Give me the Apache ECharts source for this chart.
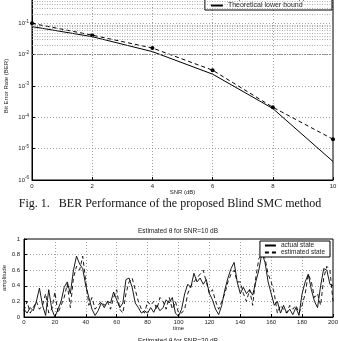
<!DOCTYPE html>
<html><head><meta charset="utf-8">
<script src="https://cdn.jsdelivr.net/npm/echarts@6/dist/echarts.min.js"></script>
<style>html,body{margin:0;padding:0;background:#fff}#c{width:338px;height:341px}</style>
</head><body><div id="c"></div>
<script>
// ---- Figure 1: BER vs SNR ----
const snr = [0, 2, 4, 6, 8, 10];
const berProposed = [0.1, 0.042, 0.0163, 0.0032, 0.00021, 0.00002];
const berBound = [0.0786, 0.0375, 0.0125, 0.00239, 0.000191, 0.0000039];
const legendTop = ['Proposed Blind SMC approach', 'Theoretical lower bound'];

// ---- Estimated theta for SNR=10 dB (sampled every 2 time steps) ----
const timeStep = 2;
const actualState = [
 0.10,0.05,0.12,0.08,0.20,0.37,0.15,0.02,0.35,0.10,
 0.00,0.10,0.20,0.38,0.45,0.30,0.60,0.78,0.68,0.62,
 0.40,0.25,0.10,0.02,0.08,0.18,0.12,0.20,0.18,0.32,
 0.22,0.12,0.18,0.48,0.50,0.38,0.18,0.12,0.05,0.08,
 0.05,0.12,0.06,0.15,0.08,0.12,0.22,0.18,0.25,0.05,
 0.01,0.10,0.30,0.42,0.38,0.56,0.45,0.50,0.42,0.48,
 0.30,0.22,0.10,0.03,0.15,0.35,0.50,0.62,0.70,0.45,
 0.30,0.38,0.30,0.35,0.28,0.45,0.60,0.82,0.70,0.45,
 0.30,0.15,0.20,0.05,0.15,0.05,0.10,0.03,0.12,0.02,
 0.30,0.45,0.55,0.35,0.20,0.12,0.40,0.62,0.60,0.42,
 0.40];
const estimatedState = [
 0.08,0.20,0.05,0.12,0.20,0.10,0.15,0.30,0.05,0.10,
 0.32,0.05,0.15,0.25,0.42,0.12,0.50,0.65,0.60,0.78,
 0.45,0.15,0.25,0.10,0.15,0.20,0.15,0.20,0.10,0.25,
 0.35,0.10,0.05,0.30,0.45,0.50,0.35,0.20,0.10,0.05,
 0.20,0.15,0.20,0.10,0.25,0.20,0.10,0.25,0.10,0.20,
 0.05,0.05,0.10,0.30,0.40,0.45,0.50,0.55,0.60,0.45,
 0.30,0.35,0.20,0.10,0.20,0.30,0.45,0.55,0.60,0.45,
 0.45,0.30,0.20,0.35,0.15,0.50,0.75,0.80,0.75,0.55,
 0.45,0.30,0.05,0.15,0.10,0.05,0.15,0.10,0.15,0.05,
 0.15,0.30,0.55,0.45,0.25,0.30,0.15,0.50,0.65,0.60,
 0.20];
const legendBottom = ['actual state', 'estimated state'];

const FONT = '"Liberation Sans", Arial, sans-serif';
const TXT = '#222';

const minorLines = [];
for (let k = -6; k <= -1; k++) for (let m = 2; m <= 9; m++) minorLines.push({ yAxis: m * Math.pow(10, k) });

const chart = echarts.init(document.getElementById('c'), null, { renderer: 'canvas' });
const dotted = { type: [1, 2], color: '#777', width: 0.7 };
chart.setOption({
  animation: false,
  backgroundColor: '#fff',
  textStyle: { fontFamily: FONT, color: TXT },
  grid: [
    { left: 32, right: 5, top: -8, bottom: 161, outerBoundsMode: 'none', containLabel: false,
      show: true, borderColor: '#000', borderWidth: 1, backgroundColor: '#fff' },
    { left: 24, right: 5, top: 239, bottom: 24, outerBoundsMode: 'none', containLabel: false,
      show: true, borderColor: '#000', borderWidth: 1, backgroundColor: '#fff' }
  ],
  legend: [
    { data: [legendTop[0], { name: legendTop[1], itemStyle: { opacity: 0 } }],
      orient: 'vertical', right: 6, top: -7, itemWidth: 12, itemHeight: 6, itemGap: 1,
      padding: [1, 8, 1, 5], borderColor: '#000', borderWidth: 1, backgroundColor: '#fff', borderRadius: 0,
      textStyle: { fontSize: 7, color: TXT, fontFamily: FONT }, selectedMode: false },
    { data: legendBottom, orient: 'vertical', right: 8, top: 241, itemWidth: 11, itemHeight: 5, itemGap: 0,
      padding: [1, 5, 1, 4], borderColor: '#000', borderWidth: 1, backgroundColor: '#fff', borderRadius: 0,
      itemStyle: { opacity: 0 },
      textStyle: { fontSize: 6.5, color: TXT, fontFamily: FONT }, selectedMode: false }
  ],
  xAxis: [
    { gridIndex: 0, type: 'value', min: 0, max: 10, interval: 2,
      axisLine: { lineStyle: { color: '#000' } }, axisTick: { inside: true, length: 3, lineStyle: { color: '#000' } },
      axisLabel: { fontSize: 6, margin: 3, color: TXT },
      splitLine: { show: true, lineStyle: dotted },
      name: 'SNR (dB)', nameLocation: 'middle', nameGap: 9, nameMoveOverlap: false,
      nameTextStyle: { fontSize: 6, color: TXT } },
    { gridIndex: 1, type: 'value', min: 0, max: 200, interval: 20,
      axisLine: { lineStyle: { color: '#000' } }, axisTick: { inside: true, length: 3, lineStyle: { color: '#000' } },
      axisLabel: { fontSize: 6, margin: 2, color: TXT },
      splitLine: { show: true, lineStyle: dotted },
      name: 'time', nameLocation: 'middle', nameGap: 8, nameMoveOverlap: false,
      nameTextStyle: { fontSize: 6, color: TXT } }
  ],
  yAxis: [
    { gridIndex: 0, type: 'log', logBase: 10, min: 1e-6, max: 1,
      axisLine: { lineStyle: { color: '#000' } }, axisTick: { inside: true, length: 3, lineStyle: { color: '#000' } },
      axisLabel: { margin: 3, color: TXT,
        formatter: v => '{b|10}{s|' + Math.round(Math.log10(v)) + '}',
        rich: { b: { fontSize: 6, color: TXT }, s: { fontSize: 4.5, color: TXT, verticalAlign: 'top', padding: [0, 0, 4, 0] } } },
      splitLine: { show: true, lineStyle: dotted },
      name: 'Bit Error Rate (BER)', nameLocation: 'middle', nameGap: 23, nameMoveOverlap: false,
      nameTextStyle: { fontSize: 6, color: TXT } },
    { gridIndex: 1, type: 'value', min: 0, max: 1, interval: 0.2,
      axisLine: { lineStyle: { color: '#000' } }, axisTick: { inside: true, length: 3, lineStyle: { color: '#000' } },
      axisLabel: { fontSize: 6, margin: 4, color: TXT },
      splitLine: { show: true, lineStyle: dotted },
      name: 'amplitude', nameLocation: 'middle', nameGap: 17, nameMoveOverlap: false,
      nameTextStyle: { fontSize: 6, color: TXT } }
  ],
  series: [
    { name: legendTop[0], type: 'line', xAxisIndex: 0, yAxisIndex: 0,
      data: snr.map((x, i) => [x, berProposed[i]]),
      symbol: 'circle', symbolSize: 4, itemStyle: { color: '#000' },
      lineStyle: { color: '#000', width: 1, type: [4, 3] } },
    { name: legendTop[1], type: 'line', xAxisIndex: 0, yAxisIndex: 0,
      data: snr.map((x, i) => [x, berBound[i]]),
      symbol: 'none', itemStyle: { color: '#000' },
      lineStyle: { color: '#000', width: 1 },
      markLine: { silent: true, symbol: 'none', label: { show: false }, animation: false,
        lineStyle: { type: [1, 1.5], color: '#888', width: 0.7 }, emphasis: { disabled: true },
        data: minorLines } },
    { name: legendBottom[0], type: 'line', xAxisIndex: 1, yAxisIndex: 1,
      data: actualState.map((v, i) => [i * timeStep, v]),
      symbol: 'none', itemStyle: { color: '#000' },
      lineStyle: { color: '#000', width: 0.9 } },
    { name: legendBottom[1], type: 'line', xAxisIndex: 1, yAxisIndex: 1,
      data: estimatedState.map((v, i) => [i * timeStep, v]),
      symbol: 'none', itemStyle: { color: '#000' },
      lineStyle: { color: '#000', width: 0.9, type: [4, 3] } }
  ],
  graphic: [
    { type: 'text', x: 170, y: 204, style: { text: 'Fig. 1.   BER Performance of the proposed Blind SMC method',
      fill: '#111', font: '12px "Liberation Serif", "Times New Roman", serif', textAlign: 'center', textVerticalAlign: 'middle' } },
    { type: 'text', x: 178, y: 231, style: { text: 'Estimated θ for SNR=10 dB',
      fill: TXT, font: '6.5px ' + FONT, textAlign: 'center', textVerticalAlign: 'middle' } },
    { type: 'text', x: 178, y: 341, style: { text: 'Estimated θ for SNR=20 dB',
      fill: TXT, font: '6.5px ' + FONT, textAlign: 'center', textVerticalAlign: 'middle' } }
  ]
});
</script>
</body></html>
